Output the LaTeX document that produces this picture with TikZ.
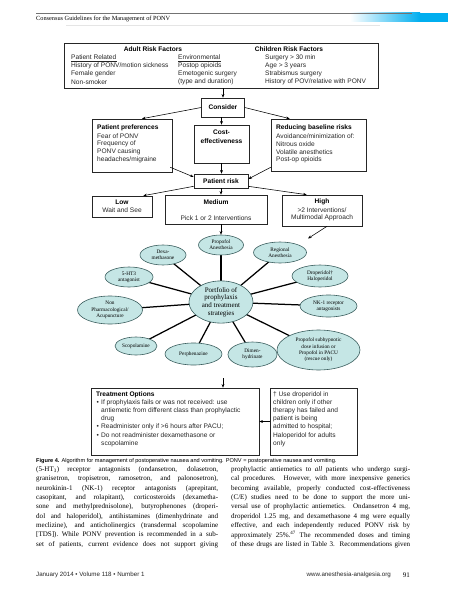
\documentclass[tikz,border=0pt]{standalone}
\usepackage{fontspec}
\newfontfamily\arial{Liberation Sans}
\newfontfamily\tms{Liberation Serif}
\usetikzlibrary{shapes.geometric,arrows.meta,calc}
\definecolor{ellfill}{RGB}{197,230,229}
\definecolor{ellline}{RGB}{60,95,95}
\definecolor{hdrcyan}{RGB}{0,174,239}
\newcommand{\bodyline}[2]{\makebox[#1pt][s]{#2}}
\begin{document}
\begin{tikzpicture}[x=1pt,y=-1pt,
  box/.style={draw=black!85, line width=0.6pt, inner sep=0pt, rectangle},
  tx/.style={font=\arial\fontsize{6.6}{8}\selectfont, inner sep=0pt, anchor=west, text=black!85},
  txb/.style={font=\arial\bfseries\fontsize{6.6}{8}\selectfont, inner sep=0pt, text=black},
  arr/.style={-{Stealth[length=3.6pt,width=2.8pt]}, line width=0.55pt, black},
  ell/.style={ellipse, draw=ellline, line width=0.6pt, fill=ellfill, inner sep=0pt, align=center, font=\tms\fontsize{5.3}{6.2}\selectfont},
  spoke/.style={line width=1.25pt, black},
  body/.style={font=\tms\fontsize{7.05}{8}\selectfont, inner sep=0pt, anchor=west},
  uline/.style={line width=0.6pt, black!85},
]
\useasboundingbox (0,0) rectangle (448,599);
\fill[white] (0,0) rectangle (448,599);
% header
\shade[left color=white, right color=hdrcyan] (350,13) rectangle (420,22);
\fill[hdrcyan] (419.5,13) rectangle (448,22);
\draw[black!55, line width=0.9pt] (36,13) -- (412,13);
\node[font=\tms\fontsize{6.3}{7}\selectfont, inner sep=0pt, anchor=west] (hdr) at (36,18.5) {Consensus Guidelines for the Management of PONV};
\draw[black!10, line width=0.4pt] (66,25) -- (380,25);

% top box
\node[box, minimum width=314pt, minimum height=45pt] (top) at (221,65.5) {};
\node[txb] at (153,49) {Adult Risk Factors};
\node[txb] at (289,49) {Children Risk Factors};
\node[tx] (pr) at (71,57.3) {Patient Related};
\draw[uline] ($(pr.south west)+(0,1.2)$) -- ($(pr.south east)+(0,1.2)$);
\node[tx] at (71,65.5) {History of PONV/motion sickness};
\node[tx] at (71,73.7) {Female gender};
\node[tx] at (71,82) {Non-smoker};
\node[tx] (env) at (178,57.3) {Environmental};
\draw[uline] ($(env.south west)+(0,1.2)$) -- ($(env.south east)+(0,1.2)$);
\node[tx] at (178,65.5) {Postop opioids};
\node[tx] at (178,73.7) {Emetogenic surgery};
\node[tx] at (178,82) {(type and duration)};
\node[tx] at (265,57.3) {Surgery > 30 min};
\node[tx] at (265,65.5) {Age > 3 years};
\node[tx] at (265,73.7) {Strabismus surgery};
\node[tx] at (265,82) {History of POV/relative with PONV};

% consider
\node[box, minimum width=43pt, minimum height=19pt, font=\arial\bfseries\fontsize{6.6}{8}\selectfont] (consider) at (223,107.5) {Consider};

% second row
\node[box, minimum width=80pt, minimum height=53pt] (prefs) at (132,145.5) {};
\node[txb, anchor=west] at (97,128) {Patient preferences};
\node[tx] at (97,136) {Fear of PONV};
\node[tx] at (97,144) {Frequency of};
\node[tx] at (97,152) {PONV causing};
\node[tx] at (97,160) {headaches/migraine};

\node[box, minimum width=55pt, minimum height=38pt] (cost) at (221.5,144) {};
\node[txb] at (221.5,132.5) {Cost-};
\node[txb] at (221.5,141) {effectiveness};

\node[box, minimum width=95pt, minimum height=52pt] (reduce) at (318.5,145) {};
\node[txb, anchor=west] at (276,128) {Reducing baseline risks};
\node[tx] at (276,136) {Avoidance/minimization of:};
\node[tx] at (276,144) {Nitrous oxide};
\node[tx] at (276,152) {Volatile anesthetics};
\node[tx] at (276,160) {Post-op opioids};

\node[box, minimum width=54pt, minimum height=14pt, font=\arial\bfseries\fontsize{6.6}{8}\selectfont] (risk) at (221,181) {Patient risk};

% risk levels
\node[box, minimum width=60pt, minimum height=21pt] (low) at (122,206.5) {};
\node[txb] at (122,202) {Low};
\node[tx, anchor=center] at (122,210) {Wait and See};
\node[box, minimum width=102pt, minimum height=29pt] (medium) at (216,209.5) {};
\node[txb] at (216,202) {Medium};
\node[tx, anchor=center] at (216,218) {Pick 1 or 2 Interventions};
\node[box, minimum width=80pt, minimum height=31pt] (high) at (322,210.5) {};
\node[txb] at (322,202) {High};
\node[tx, anchor=center] at (322,210) {>2 Interventions/};
\node[tx, anchor=center] at (322,218) {Multimodal Approach};

% arrows upper
\draw[arr] (top.south -| consider.north) -- (consider.north);
\draw[arr] (consider.west) -- ($(prefs.north)+(10,0)$);
\draw[arr] (consider.east) -- ($(reduce.north west)+(19,0)$);
\draw[arr] (consider.south -| cost.north) -- (cost.north);
\draw[arr] ($(prefs.south east)+(-2,-5)$) -- ($(risk.west)+(0,-4)$);
\draw[arr] (cost.south) -- (cost.south |- risk.north);
\draw[arr] ($(reduce.south west)+(0,-4)$) -- ($(risk.east)+(0,-2)$);
\draw[arr] ($(risk.south west)+(0,-2)$) -- ($(low.north east)+(-9,0)$);
\draw[arr] (risk.south) -- (risk.south |- medium.north);
\draw[arr] ($(risk.south east)+(0,-2)$) -- ($(high.north west)+(25,0)$);

% spokes first (behind ellipses)
\coordinate (portc) at (221,302);
\foreach \p in {(221,245),(163,255),(280,252.5),(129,277),(320,276),(110,310),(328.5,306),(136,346),(193.5,354),(252.5,354.5),(318.5,350)}{
  \draw[spoke] (portc) -- \p;
}
% ellipses
\node[ell, minimum width=64pt, minimum height=37pt, font=\tms\fontsize{7}{7.8}\selectfont] (port) at (portc) {Portfolio of\\prophylaxis\\and treatment\\strategies};
\node[ell, minimum width=45pt, minimum height=20pt] (propofol) at (221,245) {Propofol\\Anesthesia};
\node[ell, minimum width=46pt, minimum height=20pt] (dexa) at (163,255) {Dexa-\\methasone};
\node[ell, minimum width=53pt, minimum height=21pt] (regional) at (280,252.5) {Regional\\Anesthesia};
\node[ell, minimum width=48pt, minimum height=20pt] (ht3) at (129,277) {5-HT3\\antagonist};
\node[ell, minimum width=56pt, minimum height=22pt] (drop) at (320,276) {Droperidol†\\Haloperidol};
\node[ell, minimum width=65pt, minimum height=28pt] (nonph) at (110,310) {Non\\Pharmacological/\\Acupuncture};
\node[ell, minimum width=57pt, minimum height=22pt] (nk1) at (328.5,306) {NK-1 receptor\\antagonists};
\node[ell, minimum width=42pt, minimum height=18pt] (scop) at (136,346) {Scopolamine};
\node[ell, minimum width=57pt, minimum height=22pt] (perph) at (193.5,354) {Perphenazine};
\node[ell, minimum width=49pt, minimum height=25pt] (dimen) at (252.5,354.5) {Dimen-\\hydrinate};
\node[ell, minimum width=83pt, minimum height=40pt] (propsub) at (318.5,350) {Propofol subhypnotic\\dose infusion or\\Propofol in PACU\\(rescue only)};

\draw[arr] (medium.south -| propofol.north) -- (propofol.north);
\coordinate (highend) at (308,238.5);
\draw[arr] ($(high.south)+(5,0)$) -- (highend);

% bottom boxes
\coordinate (treatstart) at (223,378);
\node[box, minimum width=168pt, minimum height=67pt] (treat) at (175,421.5) {};
\node[txb, anchor=west] at (96,395) {Treatment Options};
\node[tx] at (96.5,403) {\textbullet};
\node[tx] at (101,403) {If prophylaxis fails or was not received: use};
\node[tx] at (101,411) {antiemetic from different class than prophylactic};
\node[tx] at (101,419) {drug};
\node[tx] at (96.5,427) {\textbullet};
\node[tx] at (101,427) {Readminister only if >6 hours after PACU;};
\node[tx] at (96.5,435.5) {\textbullet};
\node[tx] at (101,435.5) {Do not readminister dexamethasone or};
\node[tx] at (101,444) {scopolamine};
\node[box, minimum width=87pt, minimum height=67pt] (foot) at (313.5,421.5) {};
\node[tx] at (273,395) {† Use droperidol in};
\node[tx] at (273,403) {children only if other};
\node[tx] at (273,411) {therapy has failed and};
\node[tx] at (273,419) {patient is being};
\node[tx] at (273,427) {admitted to hospital;};
\node[tx] at (273,435.5) {Haloperidol for adults};
\node[tx] at (273,444) {only};
\draw[arr] (treatstart) -- (treatstart |- treat.north);
\draw[arr] (foot.west) -- (treat.east);

% caption
\node[inner sep=0pt, anchor=west, font=\arial\fontsize{5.6}{6.5}\selectfont] (cap) at (36,461) {\textbf{Figure 4.} Algorithm for management of postoperative nausea and vomiting. PONV = postoperative nausea and vomiting.};

% body text
\node[body] (l1) at (36,470) {\bodyline{182}{(5-HT\textsubscript{3}) receptor antagonists (ondansetron, dolasetron,}};
\node[body] (l2) at (36,479.3) {\bodyline{182}{granisetron, tropisetron, ramosetron, and palonosetron),}};
\node[body] (l3) at (36,488.6) {\bodyline{182}{neurokinin-1 (NK-1) receptor antagonists (aprepitant,}};
\node[body] (l4) at (36,497.9) {\bodyline{182}{casopitant, and rolapitant), corticosteroids (dexametha-}};
\node[body] (l5) at (36,507.2) {\bodyline{182}{sone and methylprednisolone), butyrophenones (droperi-}};
\node[body] (l6) at (36,516.5) {\bodyline{182}{dol and haloperidol), antihistamines (dimenhydrinate and}};
\node[body] (l7) at (36,525.8) {\bodyline{182}{meclizine), and anticholinergics (transdermal scopolamine}};
\node[body] (l8) at (36,535.1) {\bodyline{182}{[TDS]). While PONV prevention is recommended in a sub-}};
\node[body] (l9) at (36,544.4) {\bodyline{182}{set of patients, current evidence does not support giving}};
\node[body] (r1) at (231,470) {\bodyline{179}{prophylactic antiemetics to \textit{all} patients who undergo surgi-}};
\node[body] (r2) at (231,479.3) {\bodyline{179}{cal procedures. However, with more inexpensive generics}};
\node[body] (r3) at (231,488.6) {\bodyline{179}{becoming available, properly conducted cost-effectiveness}};
\node[body] (r4) at (231,497.9) {\bodyline{179}{(C/E) studies need to be done to support the more uni-}};
\node[body] (r5) at (231,507.2) {\bodyline{179}{versal use of prophylactic antiemetics. Ondansetron 4 mg,}};
\node[body] (r6) at (231,516.5) {\bodyline{179}{droperidol 1.25 mg, and dexamethasone 4 mg were equally}};
\node[body] (r7) at (231,525.8) {\bodyline{179}{effective, and each independently reduced PONV risk by}};
\node[body] (r8) at (231,535.1) {\bodyline{179}{approximately 25\%.\textsuperscript{47} The recommended doses and timing}};
\node[body] (r9) at (231,544.4) {\bodyline{179}{of these drugs are listed in Table 3. Recommendations given}};

% footer
\node[inner sep=0pt, anchor=west, font=\arial\fontsize{6.2}{7}\selectfont, text=black!85] (ftl) at (36,575) {January 2014 • Volume 118 • Number 1};
\node[inner sep=0pt, anchor=east, font=\arial\fontsize{6.2}{7}\selectfont, text=black!85] (ftr) at (391,575) {www.anesthesia-analgesia.org};
\node[inner sep=0pt, anchor=east, font=\tms\fontsize{7}{8}\selectfont] (pg) at (410,575) {91};
\end{tikzpicture}
\end{document}
